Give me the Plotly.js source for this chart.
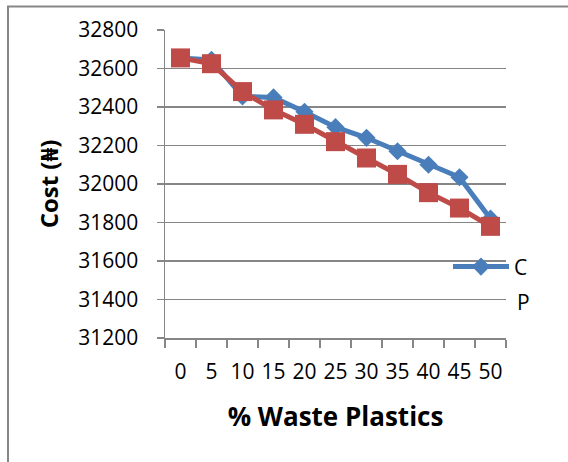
<!DOCTYPE html>
<html>
<head>
<meta charset="utf-8">
<script src="https://cdn.plot.ly/plotly-3.0.1.min.js"></script>
<style>
  html, body { margin: 0; padding: 0; background: #fff; }
  #chart { width: 568px; height: 462px; }
</style>
</head>
<body>
<div id="chart"></div>
<script>
// Share of waste plastics in the mix (%)
const wastePlastics = ['0', '5', '10', '15', '20', '25', '30', '35', '40', '45', '50'];

// Cost (₦) for each series
const costC = [32655, 32645, 32455, 32450, 32375, 32295, 32240, 32170, 32100, 32035, 31820];
const costP = [32655, 32625, 32480, 32385, 32310, 32220, 32135, 32050, 31955, 31875, 31780];

const yTicks = [31200, 31400, 31600, 31800, 32000, 32200, 32400, 32600, 32800];

const blue = '#4A7EBB';
const red = '#BE4B48';
const grey = '#868686';
const font = 'Open Sans, Noto Sans, sans-serif';

// plot area in pixels, used to place the frame, legend and the "P" label
const plotL = 165, plotW = 341, plotB = 338.3, plotH = 308.8;
const px = v => (v - plotL) / plotW;
const py = v => (plotB - v) / plotH;

const traces = [
  {
    x: wastePlastics, y: costC, name: 'C', type: 'scatter', mode: 'lines+markers',
    line: { color: blue, width: 5 },
    marker: { symbol: 'diamond', size: 14, color: blue },
    showlegend: true
  },
  {
    x: wastePlastics, y: costP, name: 'P', type: 'scatter', mode: 'lines+markers',
    line: { color: red, width: 5 },
    marker: { symbol: 'square', size: 19, color: red },
    showlegend: false
  }
];

const layout = {
  width: 568, height: 462,
  margin: { l: plotL, r: 568 - plotL - plotW, t: plotB - plotH, b: 462 - plotB, pad: 0 },
  paper_bgcolor: '#fff', plot_bgcolor: '#fff',
  font: { family: font, size: 21, color: '#000' },
  xaxis: {
    type: 'category',
    range: [-0.5, 10.5],
    tickmode: 'array', tickvals: wastePlastics, ticktext: wastePlastics,
    tickangle: 0,
    tickson: 'boundaries',
    ticks: 'outside', ticklen: 8, tickcolor: grey, tickwidth: 1.5,
    showline: true, linecolor: grey, linewidth: 1.5,
    showgrid: false, zeroline: false,
    tickfont: { family: font, size: 21, color: '#000' },
    ticklabelstandoff: 14,
    title: { text: '<b>% Waste Plastics</b>', font: { family: font, size: 26, color: '#000' }, standoff: 24 },
    automargin: false
  },
  yaxis: {
    range: [31200, 32800],
    tickvals: yTicks,
    ticktext: yTicks.map(String),
    ticks: 'outside', ticklen: 7, tickcolor: grey, tickwidth: 1.5,
    showline: true, linecolor: grey, linewidth: 1.5,
    showgrid: true, gridcolor: grey, gridwidth: 1.5,
    zeroline: false,
    tickfont: { family: font, size: 21, color: '#000' },
    ticklabelstandoff: 14,
    title: { text: '<b>Cost (₦)</b>', font: { family: font, size: 24, color: '#000' }, standoff: 13 },
    automargin: false
  },
  showlegend: true,
  legend: {
    x: px(448), y: py(267), xanchor: 'left', yanchor: 'middle',
    bgcolor: 'rgba(0,0,0,0)', borderwidth: 0,
    itemwidth: 56,
    font: { family: font, size: 21, color: '#000' }
  },
  annotations: [
    { xref: 'paper', yref: 'paper', x: px(515), y: py(302),
      xanchor: 'left', yanchor: 'middle', showarrow: false, text: 'P',
      font: { family: font, size: 21, color: '#000' } }
  ],
  shapes: [
    { type: 'rect', xref: 'paper', yref: 'paper', layer: 'below',
      x0: px(8), x1: px(700), y0: py(600), y1: py(6),
      line: { color: grey, width: 2 }, fillcolor: 'rgba(0,0,0,0)' }
  ]
};

Plotly.newPlot('chart', traces, layout, { displayModeBar: false, staticPlot: true });
</script>
</body>
</html>
